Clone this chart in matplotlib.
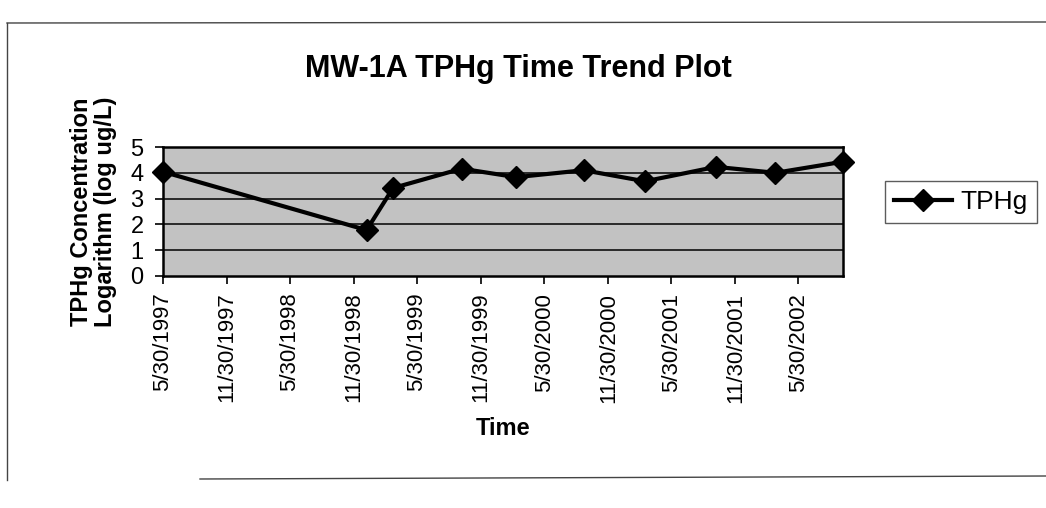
import matplotlib.pyplot as plt
import matplotlib.dates as mdates
from matplotlib.lines import Line2D
from datetime import datetime

plt.rcParams['font.family'] = ['Liberation Sans', 'DejaVu Sans']

# sampling events and log10 TPHg (ug/L)
sample_dates = ["1997-05-30", "1999-01-05", "1999-03-22", "1999-10-05", "2000-03-10",
                "2000-09-20", "2001-03-15", "2001-10-05", "2002-03-25", "2002-10-05"]
tphg_log = [4.04, 1.78, 3.41, 4.16, 3.83, 4.10, 3.67, 4.23, 4.00, 4.43]

tick_dates = ["1997-05-30", "1997-11-30", "1998-05-30", "1998-11-30", "1999-05-30",
              "1999-11-30", "2000-05-30", "2000-11-30", "2001-05-30", "2001-11-30",
              "2002-05-30"]
tick_labels = ["5/30/1997", "11/30/1997", "5/30/1998", "11/30/1998", "5/30/1999",
               "11/30/1999", "5/30/2000", "11/30/2000", "5/30/2001", "11/30/2001",
               "5/30/2002"]
y_ticks = [0, 1, 2, 3, 4, 5]

x = mdates.date2num([datetime.strptime(d, "%Y-%m-%d") for d in sample_dates])
xt = mdates.date2num([datetime.strptime(d, "%Y-%m-%d") for d in tick_dates])

W, H = 1046, 508
fig = plt.figure(figsize=(W / 100, H / 100), dpi=100)
ax = fig.add_axes([163 / W, 1 - 276 / H, 680 / W, 129 / H])

ax.set_facecolor('#c2c2c2')
for yv in y_ticks[1:]:
    ax.axhline(yv, color='black', linewidth=1.1, zorder=1)

line, = ax.plot(x, tphg_log, color='black', linewidth=3, marker='D', markersize=11,
                clip_on=False, zorder=3, label='TPHg')

ax.set_xlim(x[0], x[-1])
ax.set_ylim(0, 5)
ax.set_yticks(y_ticks)
ax.set_xticks(xt)
ax.set_xticklabels(tick_labels, rotation=90, fontsize=16)
ax.tick_params(axis='y', labelsize=17, length=6, width=1.2, pad=8)
ax.tick_params(axis='x', length=6, width=1.2, pad=6)
for s in ax.spines.values():
    s.set_linewidth(1.8)
    s.set_color('black')

ax.set_ylabel("TPHg Concentration\nLogarithm (log ug/L)", fontsize=17,
              fontweight='bold', linespacing=1.05, labelpad=10)
ax.set_xlabel("Time", fontsize=17, fontweight='bold', labelpad=10)

fig.text(518 / W, 1 - 77 / H, "MW-1A TPHg Time Trend Plot", fontsize=22,
         fontweight='bold', ha='center', va='baseline')

leg = fig.legend(handles=[line], loc='center', bbox_to_anchor=(961 / W, 1 - 202 / H),
                 fontsize=19, frameon=True, fancybox=False, handlelength=2.2,
                 handletextpad=0.3, borderpad=0.35, borderaxespad=0)
leg.get_frame().set_edgecolor('#333333')
leg.get_frame().set_linewidth(1.0)

# outer chart frame
for xs, ys in [((7, W), (23, 22)), ((7, 7), (23, 480)), ((200, W), (479, 476))]:
    fig.add_artist(Line2D([v / W for v in xs], [1 - v / H for v in ys],
                          color='#444444', linewidth=1.0))

fig.savefig("out.png", dpi=100)
